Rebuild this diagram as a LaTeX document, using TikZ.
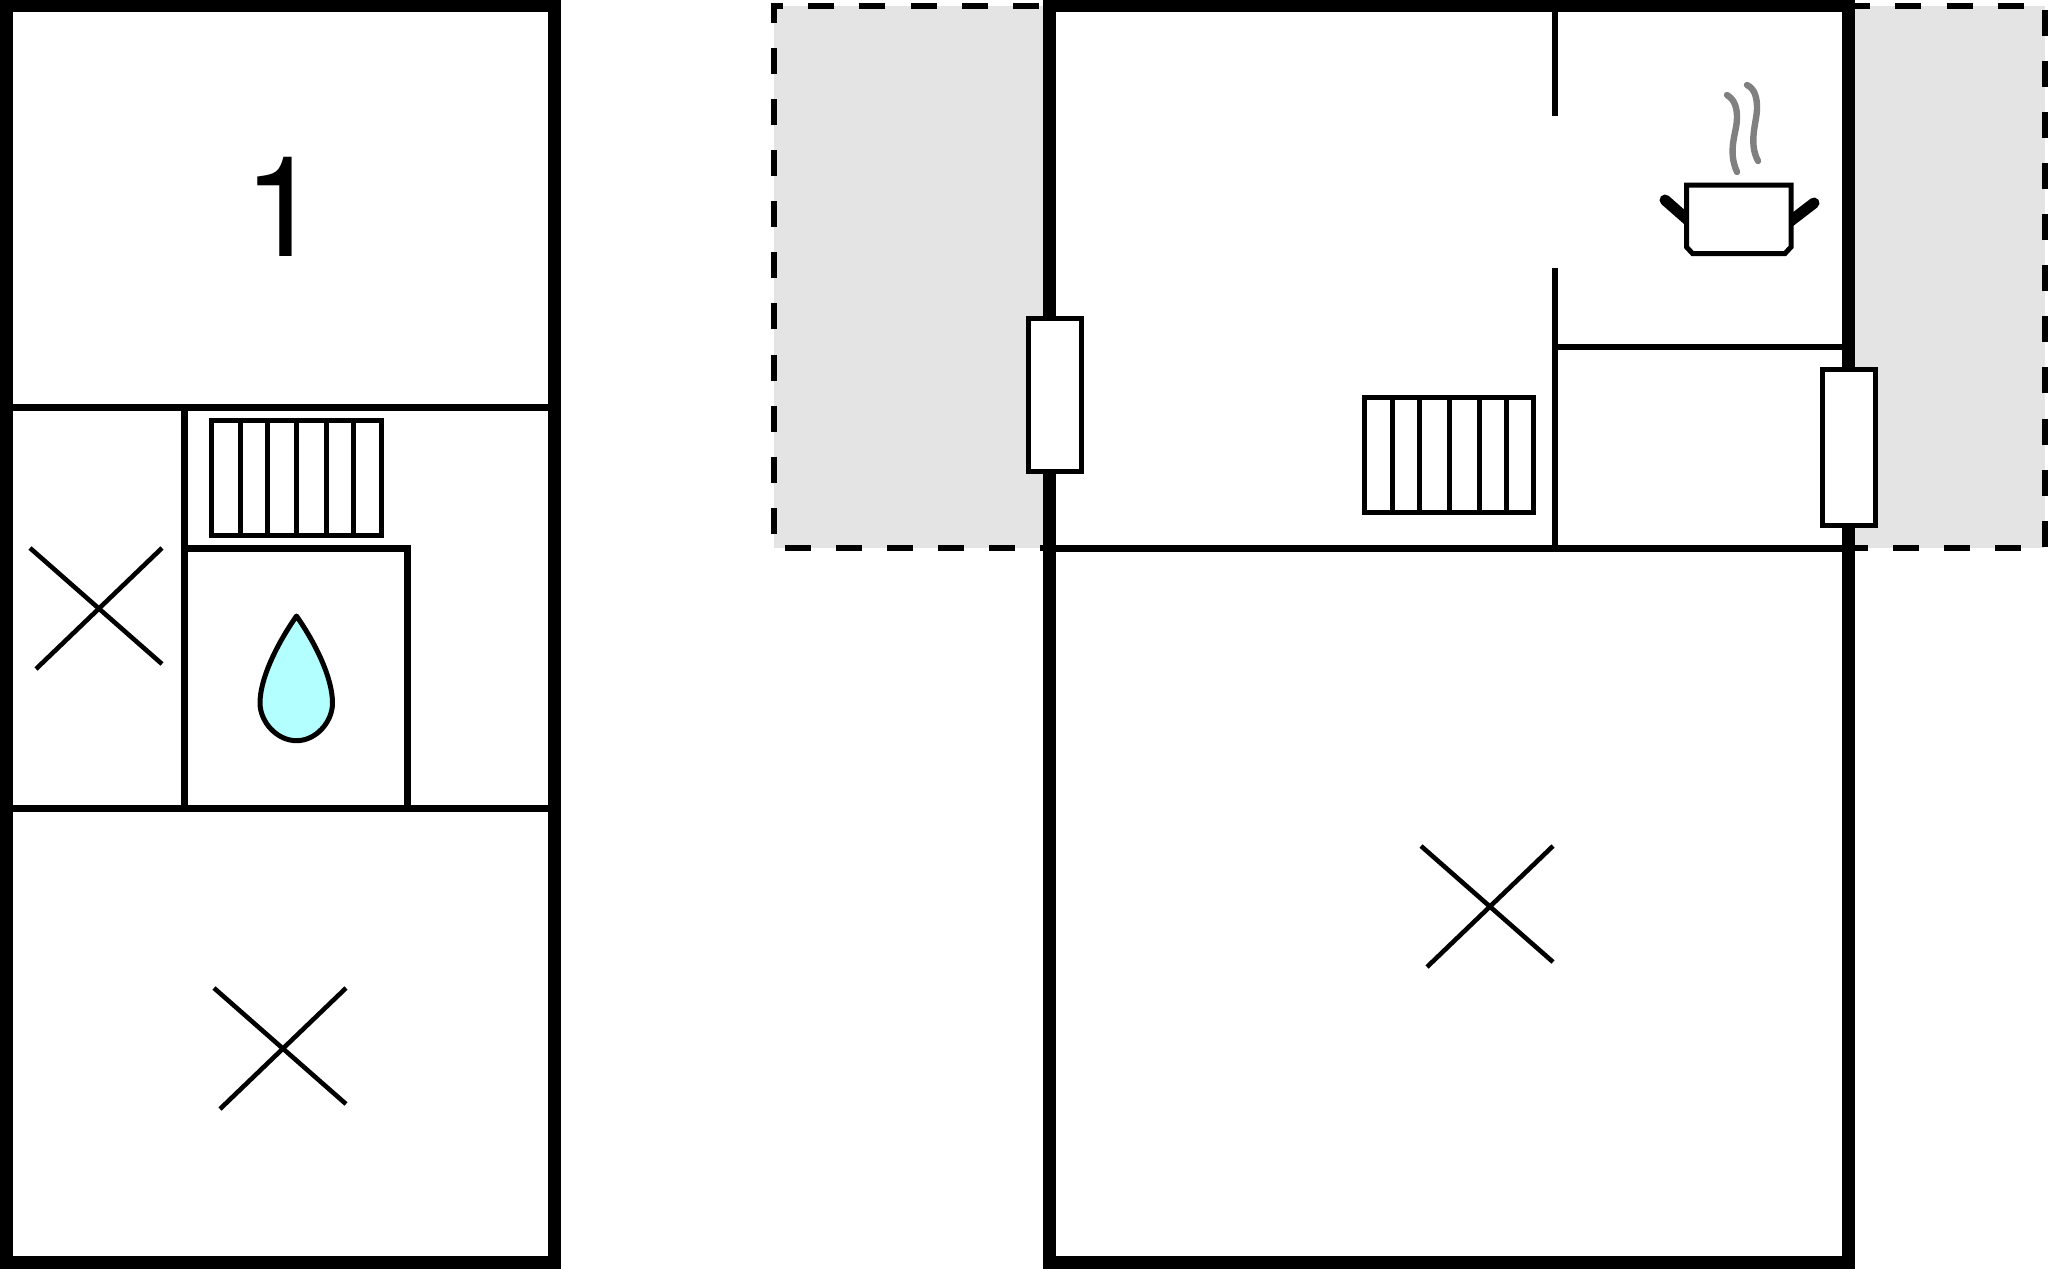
\documentclass[tikz,border=0pt]{standalone}
\usepackage{fontspec}
\setmainfont{TeX Gyre Heros}
\definecolor{shedgray}{HTML}{E4E4E4}
\definecolor{dropblue}{HTML}{B3FFFF}
\definecolor{steamgray}{HTML}{808080}

\begin{document}
\begin{tikzpicture}[x=0.5pt,y=-0.5pt]
    \tikzstyle{wall}=[draw, line width=6.5pt, line join=miter];
    \tikzstyle{thinwall}=[draw, line width=3.1pt];
    \tikzstyle{outline}=[draw, line width=2.5pt, fill=white];
    \tikzstyle{crossline}=[draw, line width=2.3pt];
    \tikzstyle{outdoor}=[draw, line width=3.4pt, dash pattern=on 13pt off 12.55pt];
    \tikzstyle{windowbox}=[draw, line width=2.5pt, fill=white, minimum width=26.5pt, inner sep=0pt, outer sep=0pt, anchor=north west];
    \tikzstyle{steam}=[draw=steamgray, line width=3.2pt, line cap=round];

    \useasboundingbox (0,0) rectangle (2048,1268);

    % terraces
    \fill[shedgray] (774,6) rectangle (1049,548);
    \fill[shedgray] (1848,6) rectangle (2045,548);
    \draw[outdoor, dash phase=20.4pt] (1049,6) -- (774,6) -- (774,548) -- (1049,548);
    \draw[outdoor, dash phase=1.85pt] (1848,6) -- (2045,6) -- (2045,548) -- (1848,548);

    % left plan
    \draw[thinwall] (6,407.5) -- (554,407.5);
    \draw[thinwall] (6,808.5) -- (554,808.5);
    \draw[thinwall] (184.5,407.5) -- (184.5,808.5);
    \draw[thinwall] (184.5,548.5) -- (407.5,548.5) -- (407.5,808.5);
    \draw[wall] (6,6) rectangle (554,1262);
    \node[inner sep=0pt, font=\fontsize{70}{70}\selectfont] (roomnumber) at (282,207) {1};

    % right plan
    \draw[thinwall] (1049,548.5) -- (1848,548.5);
    \draw[thinwall] (1555,6) -- (1555,116);
    \draw[thinwall] (1555,268) -- (1555,548.5);
    \draw[thinwall] (1555,347) -- (1848,347);
    \draw[wall] (1049,1262) -- (1049,6) -- (1848,6) -- (1848,1262) -- cycle;
    \node[windowbox, minimum height=76.5pt] (windowleft) at (1028,318) {};
    \node[windowbox, minimum height=78pt] (windowright) at (1822,369) {};

    % radiators
    \foreach \rx/\ry in {211.5/420.5,1364/397} {
        \draw[outline] (\rx,\ry) rectangle ({\rx+169.5},{\ry+115});
        \foreach \dx in {28.5,55.5,85,115,142} {
            \draw[line width=2.5pt] ({\rx+\dx},\ry) -- ({\rx+\dx},{\ry+115});
        }
    }

    % crosses
    \foreach \cx/\cy in {30/548,214/988,1421/846} {
        \draw[crossline] (\cx,\cy) -- ({\cx+132},{\cy+116});
        \draw[crossline] ({\cx+6},{\cy+121}) -- ({\cx+132},\cy);
    }

    % drop
    \draw[line width=2.5pt, fill=dropblue, line join=round] (296.5,616) .. controls (275,647) and (260,680) .. (260,703)
        .. controls (260,722) and (277,740.7) .. (296.5,740.7)
        .. controls (316,740.7) and (332.5,722) .. (332.5,703)
        .. controls (332.5,680) and (318,647) .. (296.5,616) -- cycle;

    % pot
    \draw[line width=5.5pt, line cap=round] (1665,200) -- (1690,222);
    \draw[line width=5.5pt, line cap=round] (1814,203) -- (1788,223);
    \draw[outline] (1686.5,185) -- (1686.5,247) -- (1692.5,253.5) -- (1785,253.5) -- (1791,247) -- (1791,185) -- cycle;
    \draw[steam] (1727,95) .. controls (1735,100) and (1737,108) .. (1737,118)
        .. controls (1737,132) and (1727,150) .. (1737,172);
    \draw[steam] (1747,85) .. controls (1755,89) and (1757,98) .. (1757,108)
        .. controls (1757,122) and (1748,142) .. (1758,161);
\end{tikzpicture}
\end{document}
